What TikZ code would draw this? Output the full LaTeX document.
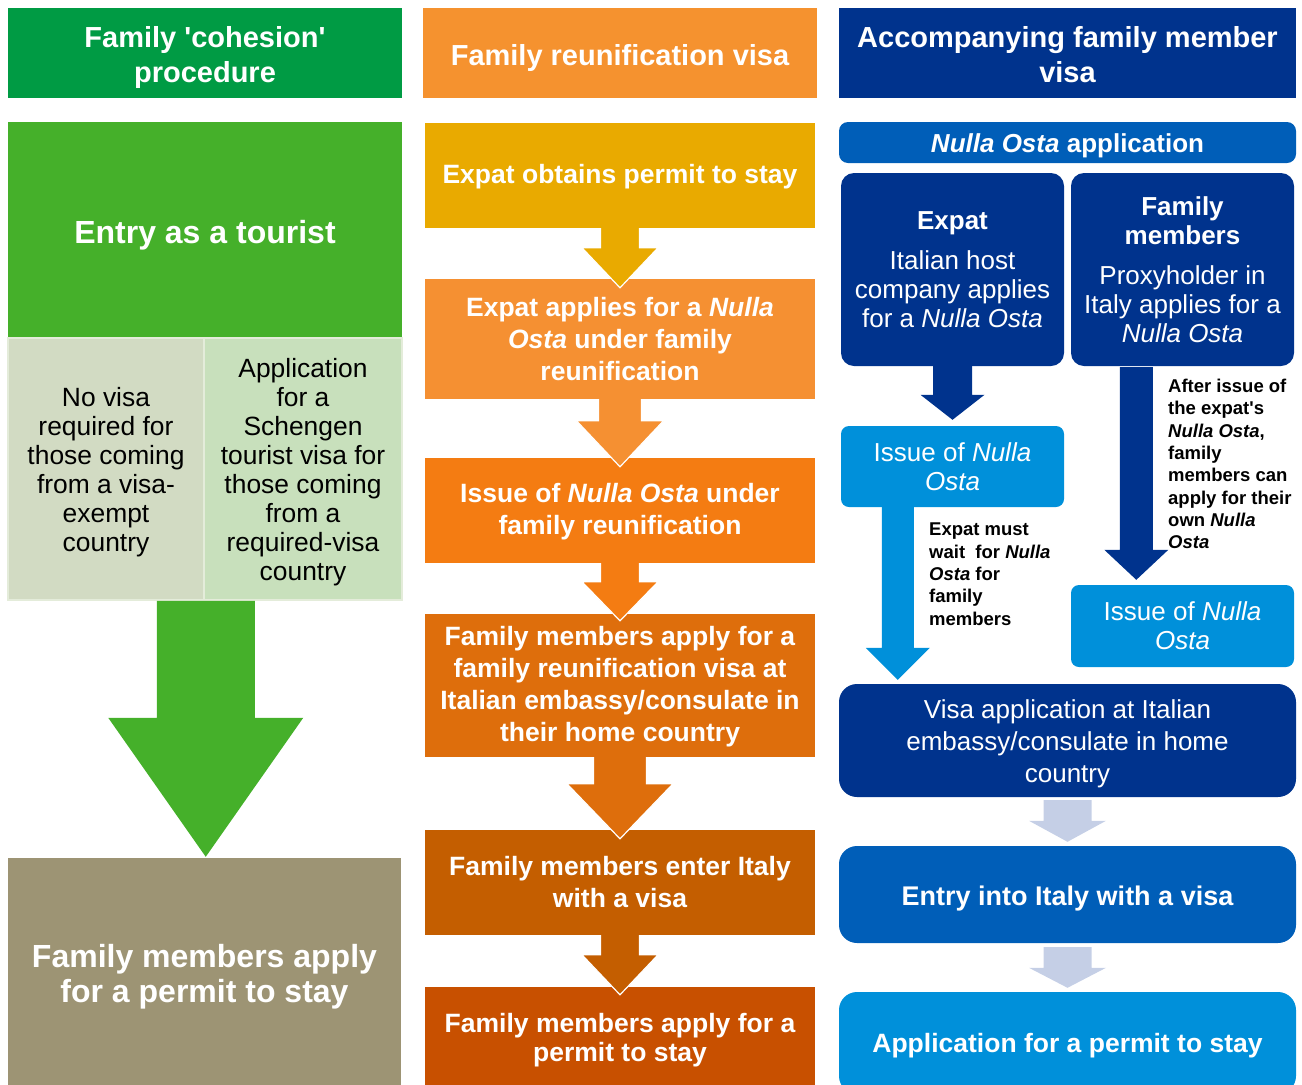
\documentclass[tikz,border=0pt]{standalone}
\usepackage{fontspec}
\setmainfont{Liberation Sans}
\usetikzlibrary{calc}

\newcommand\fsz[2]{\fontsize{#1}{#2}\selectfont}
% invisible strut in a first line: lowers a centred text block by #1 pt
\newcommand\lowerby[1]{\rule{0pt}{\dimexpr 0.73em+#1pt+#1pt\relax}}

% palette
\definecolor{hdrgreen}{RGB}{0,155,68}
\definecolor{tourgreen}{RGB}{69,176,42}
\definecolor{subgrey}{RGB}{210,219,195}
\definecolor{subgreen}{RGB}{200,224,188}
\definecolor{subedge}{RGB}{228,236,218}
\definecolor{khaki}{RGB}{157,148,116}
\definecolor{hdrorange}{RGB}{245,146,47}
\definecolor{midA}{RGB}{233,170,0}
\definecolor{midB}{RGB}{245,144,50}
\definecolor{midC}{RGB}{244,124,18}
\definecolor{midD}{RGB}{222,110,12}
\definecolor{midE}{RGB}{196,94,0}
\definecolor{midF}{RGB}{200,80,0}
\definecolor{navy}{RGB}{0,51,141}
\definecolor{royal}{RGB}{0,94,184}
\definecolor{sky}{RGB}{0,144,218}
\definecolor{pale}{RGB}{197,207,230}

% block arrow: style, start point, tip point, shaft half width, head half width, head length
\newcommand\blockarrow[6]{%
  \filldraw[#1] let \p1=(#2), \p2=(#3) in
    (\x1-#4pt,\y1) -- (\x1-#4pt,\y2+#6pt) -- (\x1-#5pt,\y2+#6pt) -- (\x1,\y2)
    -- (\x1+#5pt,\y2+#6pt) -- (\x1+#4pt,\y2+#6pt) -- (\x1+#4pt,\y1);
}

\tikzset{
  box/.style={rectangle, inner sep=0pt, align=center, text=white},
  hdr/.style={box, font=\fsz{29}{35}\bfseries},
  midbox/.style={box, font=\fsz{26.5}{32}\bfseries},
  subbox/.style={box, text=black, font=\fsz{26.4}{29}, draw=subedge, line width=1.5pt},
  rbox/.style={box, rounded corners=#1},
  note/.style={anchor=north west, inner sep=0pt, align=left, text=black, font=\fsz{18.5}{22.3}\bfseries},
  edgearrow/.style={draw=white, line width=1.2pt},
}

\begin{document}
\begin{tikzpicture}[x=1pt, y=-1pt]
\useasboundingbox (0,0) rectangle (1302,1085);
\clip (0,0) rectangle (1302,1085);

% ---------- Family 'cohesion' procedure ----------
\node[hdr, fill=hdrgreen, minimum width=394, minimum height=90] (hdrL) at (205,53)
  {\lowerby{4}Family \textquotesingle cohesion\textquotesingle\\procedure};
\node[box, fill=tourgreen, minimum width=394, minimum height=216, font=\fsz{32}{38}\bfseries] (tour) at (205,230)
  {\lowerby{5}Entry as a tourist};
\node[subbox, fill=subgrey, minimum width=196, minimum height=262] (novisa) at (106,469)
  {\lowerby{3}No visa\\required for\\those coming\\from a visa-\\exempt\\country};
\node[subbox, fill=subgreen, minimum width=198, minimum height=262] (schen) at (303,469)
  {\lowerby{3}Application\\for a\\Schengen\\tourist visa for\\those coming\\from a\\required-visa\\country};
\node[box, fill=khaki, minimum width=393, minimum height=227, font=\fsz{32}{35}\bfseries] (permL) at (204.5,971.5)
  {\lowerby{5}Family members apply\\for a permit to stay};
\blockarrow{fill=tourgreen, draw=none}{$(novisa.south east)+(1,0)$}{$(permL.north)+(0,-1)$}{49}{97.5}{139}

% ---------- Family reunification visa ----------
\node[hdr, fill=hdrorange, minimum width=394, minimum height=90] (hdrM) at (620,53)
  {\lowerby{5}Family reunification visa};
\node[midbox, fill=midA, minimum width=390, minimum height=105] (m1) at (620,175.5)
  {\lowerby{1}Expat obtains permit to stay};
\node[midbox, fill=midB, minimum width=390, minimum height=120] (m2) at (620,339)
  {Expat applies for a \textit{Nulla}\\\textit{Osta} under family\\reunification};
\node[midbox, fill=midC, minimum width=390, minimum height=105] (m3) at (620,510.5)
  {\lowerby{1}Issue of \textit{Nulla Osta} under\\family reunification};
\node[midbox, fill=midD, minimum width=390, minimum height=143] (m4) at (620,685.5)
  {\lowerby{1}Family members apply for a\\family reunification visa at\\Italian embassy/consulate in\\their home country};
\node[midbox, fill=midE, minimum width=390, minimum height=105] (m5) at (620,882.5)
  {Family members enter Italy\\with a visa};
\node[midbox, fill=midF, minimum width=390, minimum height=98, font=\fsz{26.5}{29}\bfseries] (m6) at (620,1036)
  {\lowerby{4}Family members apply for a\\permit to stay};

\blockarrow{fill=midA, edgearrow}{m1.south}{$(m2.north)+(0,9)$}{19.5}{38}{40}
\blockarrow{fill=midB, edgearrow}{m2.south}{$(m3.north)+(0,9)$}{21.5}{43.5}{46}
\blockarrow{fill=midC, edgearrow}{m3.south}{$(m4.north)+(0,7)$}{19.5}{38}{39}
\blockarrow{fill=midD, edgearrow}{m4.south}{$(m5.north)+(0,9)$}{26.5}{53}{55}
\blockarrow{fill=midE, edgearrow}{m5.south}{$(m6.north)+(0,8)$}{19.5}{38}{40}

% ---------- Accompanying family member visa ----------
\node[hdr, fill=navy, minimum width=457, minimum height=90] (hdrR) at (1067.5,53)
  {\lowerby{2}Accompanying family member\\visa};
\node[rbox=9pt, fill=royal, minimum width=457, minimum height=41, font=\fsz{26}{30}\bfseries] (nobar) at (1067.5,142.5)
  {\lowerby{3}\textit{Nulla Osta} application};
\node[rbox=13pt, fill=navy, minimum width=223, minimum height=193, font=\fsz{26}{29}] (expat) at (952.5,269.5)
  {\textbf{Expat}\\[11pt]Italian host\\company applies\\for a \textit{Nulla Osta}};
\node[rbox=13pt, fill=navy, minimum width=223, minimum height=193, font=\fsz{26}{29}] (fam) at (1182.5,269.5)
  {\textbf{Family}\\\textbf{members}\\[11pt]Proxyholder in\\Italy applies for a\\\textit{Nulla Osta}};
\node[rbox=8pt, fill=sky, minimum width=223, minimum height=81, font=\fsz{26}{29}] (issL) at (952.5,466.5)
  {Issue of \textit{Nulla}\\\textit{Osta}};
\node[rbox=8pt, fill=sky, minimum width=223, minimum height=82, font=\fsz{26}{29}] (issR) at (1182.5,626)
  {Issue of \textit{Nulla}\\\textit{Osta}};
\node[rbox=18pt, fill=navy, minimum width=457, minimum height=113, font=\fsz{26}{32}] (visa) at (1067.5,740.5)
  {\lowerby{3}Visa application at Italian\\embassy/consulate in home\\country};
\node[rbox=18pt, fill=royal, minimum width=457, minimum height=97, font=\fsz{27}{32}\bfseries] (entry) at (1067.5,894.5)
  {\lowerby{4}Entry into Italy with a visa};
\node[rbox=18pt, fill=sky, minimum width=457, minimum height=102, font=\fsz{26.5}{32}\bfseries] (appl) at (1067.5,1043)
  {\lowerby{3}Application for a permit to stay};

\blockarrow{fill=navy, draw=none}{expat.south}{$(issL.north)+(0,-6)$}{19.5}{32}{25}
\blockarrow{fill=sky, draw=none}{$(issL.south west)+(57,0)$}{$(visa.north west)+(59,-4)$}{16}{32}{32}
\blockarrow{fill=navy, draw=none}{$(fam.south west)+(65.5,1)$}{$(issR.north west)+(65.5,-5)$}{16.5}{32}{30}
\blockarrow{fill=pale, draw=none}{$(visa.south)+(0,3)$}{$(entry.north)+(0,-4)$}{24}{38.5}{21}
\blockarrow{fill=pale, draw=none}{$(entry.south)+(0,4)$}{$(appl.north)+(0,-4)$}{24}{38.5}{20}

\node[note] (noteL) at (929,523)
  {Expat must\\wait\ \ for \textit{Nulla}\\\textit{Osta} for\\family\\members};
\node[note] (noteR) at (1168,379)
  {After issue of\\the expat\textquotesingle s\\\textit{Nulla Osta},\\family\\members can\\apply for their\\own \textit{Nulla}\\\textit{Osta}};
\end{tikzpicture}
\end{document}
